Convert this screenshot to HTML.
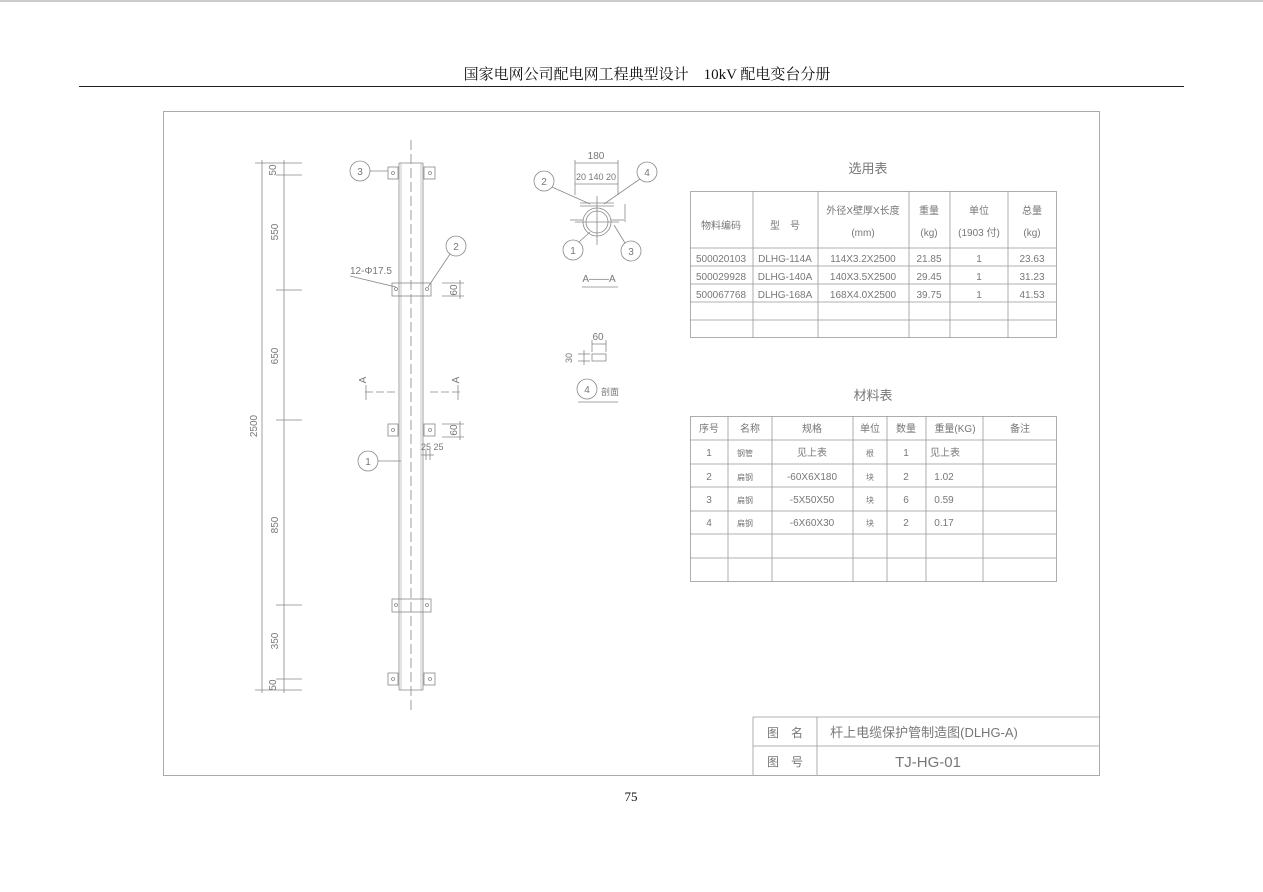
<!DOCTYPE html>
<html><head><meta charset="utf-8"><style>
html,body{margin:0;padding:0;background:#fff;}
svg{display:block;}
.t{font-family:"Liberation Sans","Noto Sans CJK SC",sans-serif;fill:#777;}
.h{font-family:"Liberation Serif","Noto Serif CJK SC",serif;fill:#111;}
</style></head><body>
<svg width="1263" height="892" viewBox="0 0 1263 892" xmlns="http://www.w3.org/2000/svg">
<line x1="0" y1="1" x2="1263" y2="1" stroke="#999" stroke-width="1"/>
<text class="h" x="647" y="79" font-size="15" text-anchor="middle">国家电网公司配电网工程典型设计　10kV 配电变台分册</text>
<line x1="79" y1="86.5" x2="1184" y2="86.5" stroke="#222" stroke-width="1"/>
<rect x="163.5" y="111.5" width="936" height="664" fill="none" stroke="#aaa" stroke-width="1"/>
<text class="h" x="631" y="801" font-size="13" text-anchor="middle">75</text>

<g stroke="#888" stroke-width="0.8" fill="none">
<line x1="262" y1="160" x2="262" y2="693"/>
<line x1="284" y1="160" x2="284" y2="693"/>
<line x1="255" y1="163" x2="302" y2="163"/>
<line x1="276" y1="175" x2="302" y2="175"/>
<line x1="276" y1="290" x2="302" y2="290"/>
<line x1="276" y1="420" x2="302" y2="420"/>
<line x1="276" y1="605" x2="302" y2="605"/>
<line x1="276" y1="679" x2="302" y2="679"/>
<line x1="255" y1="690" x2="302" y2="690"/>
<line x1="399" y1="163" x2="399" y2="690"/>
<line x1="423" y1="163" x2="423" y2="690"/>
<line x1="401" y1="163" x2="401" y2="690" stroke="#bbb"/>
<line x1="421" y1="163" x2="421" y2="690" stroke="#bbb"/>
<line x1="399" y1="163" x2="423" y2="163"/>
<line x1="399" y1="690" x2="423" y2="690"/>
<line x1="411" y1="140" x2="411" y2="710" stroke-dasharray="10,4"/>
<rect x="388" y="167" width="10" height="12"/><rect x="424" y="167" width="11" height="12"/>
<rect x="392" y="283" width="39" height="13"/>
<rect x="388" y="424" width="10" height="12"/><rect x="424" y="424" width="11" height="12"/>
<rect x="392" y="599" width="39" height="13"/>
<rect x="388" y="673" width="10" height="12"/><rect x="424" y="673" width="11" height="12"/>
<circle cx="393" cy="173" r="1.5"/><circle cx="430" cy="173" r="1.5"/>
<circle cx="396" cy="289" r="1.5"/><circle cx="427" cy="289" r="1.5"/>
<circle cx="393" cy="430" r="1.5"/><circle cx="430" cy="430" r="1.5"/>
<circle cx="396" cy="605" r="1.5"/><circle cx="427" cy="605" r="1.5"/>
<circle cx="393" cy="679" r="1.5"/><circle cx="430" cy="679" r="1.5"/>
<circle cx="360" cy="171" r="10"/><line x1="370" y1="171" x2="388" y2="171"/>
<circle cx="456" cy="246" r="10"/><line x1="450" y1="254" x2="428" y2="287"/>
<circle cx="368" cy="461" r="10"/><line x1="378" y1="461" x2="401" y2="461"/>
<line x1="350" y1="276" x2="396" y2="287"/>
<line x1="442" y1="283" x2="464" y2="283"/><line x1="442" y1="296" x2="464" y2="296"/><line x1="460" y1="280" x2="460" y2="299"/>
<line x1="442" y1="424" x2="464" y2="424"/><line x1="442" y1="437" x2="464" y2="437"/><line x1="460" y1="421" x2="460" y2="440"/>
<line x1="365" y1="392" x2="395" y2="392" stroke-dasharray="8,3"/><line x1="366" y1="385" x2="366" y2="400"/>
<line x1="430" y1="392" x2="460" y2="392" stroke-dasharray="8,3"/><line x1="458" y1="385" x2="458" y2="400"/>
<line x1="421" y1="455" x2="434" y2="455"/><line x1="426" y1="450" x2="426" y2="460"/><line x1="430" y1="450" x2="430" y2="460"/>
<circle cx="597" cy="222" r="14"/><circle cx="597" cy="222" r="11"/>
<line x1="575" y1="222" x2="619" y2="222"/><line x1="597" y1="196" x2="597" y2="245"/>
<line x1="580" y1="206" x2="614" y2="206"/><line x1="580" y1="203" x2="614" y2="203"/>
<line x1="570" y1="220" x2="583" y2="220"/><line x1="611" y1="220" x2="624" y2="220"/>
<line x1="575" y1="160" x2="575" y2="195"/><line x1="618" y1="160" x2="618" y2="195"/>
<line x1="575" y1="163" x2="618" y2="163"/><line x1="575" y1="184" x2="618" y2="184"/>
<circle cx="544" cy="181" r="10"/><line x1="552" y1="187" x2="590" y2="204"/>
<circle cx="647" cy="172" r="10"/><line x1="640" y1="179" x2="604" y2="204"/>
<circle cx="573" cy="250" r="10"/><line x1="579" y1="242" x2="590" y2="232"/>
<circle cx="631" cy="251" r="10"/><line x1="625" y1="243" x2="614" y2="225"/>
<line x1="625" y1="204" x2="625" y2="222"/>
<line x1="582" y1="287" x2="618" y2="287"/>
<rect x="592" y="354" width="14" height="7"/>
<line x1="592" y1="340" x2="592" y2="352"/><line x1="606" y1="340" x2="606" y2="352"/><line x1="592" y1="344" x2="606" y2="344"/>
<line x1="578" y1="354" x2="590" y2="354"/><line x1="578" y1="361" x2="590" y2="361"/><line x1="584" y1="350" x2="584" y2="365"/>
<circle cx="587" cy="389" r="10"/>
<line x1="578" y1="402" x2="618" y2="402"/>
</g>
<g class="t" font-size="10">
<text transform="translate(276,170) rotate(-90)" text-anchor="middle">50</text>
<text transform="translate(278,232) rotate(-90)" text-anchor="middle">550</text>
<text transform="translate(278,356) rotate(-90)" text-anchor="middle">650</text>
<text transform="translate(278,525) rotate(-90)" text-anchor="middle">850</text>
<text transform="translate(278,641) rotate(-90)" text-anchor="middle">350</text>
<text transform="translate(276,685) rotate(-90)" text-anchor="middle">50</text>
<text transform="translate(257,426) rotate(-90)" text-anchor="middle">2500</text>
<text transform="translate(457,290) rotate(-90)" text-anchor="middle">60</text>
<text transform="translate(457,430) rotate(-90)" text-anchor="middle">60</text>
<text x="350" y="274">12-Φ17.5</text>
<text x="421" y="450" font-size="9">25 25</text>
<text transform="translate(366,380) rotate(-90)" text-anchor="middle">A</text>
<text transform="translate(459,380) rotate(-90)" text-anchor="middle">A</text>
<text x="360" y="175" text-anchor="middle">3</text>
<text x="456" y="250" text-anchor="middle">2</text>
<text x="368" y="465" text-anchor="middle">1</text>
<text x="596" y="159" text-anchor="middle">180</text>
<text x="596" y="180" text-anchor="middle" font-size="9">20 140 20</text>
<text x="544" y="185" text-anchor="middle">2</text>
<text x="647" y="176" text-anchor="middle">4</text>
<text x="573" y="254" text-anchor="middle">1</text>
<text x="631" y="255" text-anchor="middle">3</text>
<text x="599" y="282" text-anchor="middle">A——A</text>
<text x="598" y="340" text-anchor="middle">60</text>
<text transform="translate(572,358) rotate(-90)" text-anchor="middle" font-size="9">30</text>
<text x="587" y="393" text-anchor="middle">4</text>
<text x="601" y="395" font-size="9">剖面</text>
</g>

<text class="t" x="868" y="173" font-size="13" text-anchor="middle">选用表</text>
<g stroke="#999" stroke-width="0.8" fill="none">
<rect x="690.5" y="191.5" width="366" height="146"/>
<line x1="690" y1="248" x2="1057" y2="248"/><line x1="690" y1="266" x2="1057" y2="266"/>
<line x1="690" y1="284" x2="1057" y2="284"/><line x1="690" y1="302" x2="1057" y2="302"/>
<line x1="690" y1="320" x2="1057" y2="320"/>
<line x1="753" y1="191" x2="753" y2="338"/><line x1="818" y1="191" x2="818" y2="338"/>
<line x1="909" y1="191" x2="909" y2="338"/><line x1="950" y1="191" x2="950" y2="338"/>
<line x1="1008" y1="191" x2="1008" y2="338"/>
</g>
<g class="t" font-size="10" text-anchor="middle">
<text x="721" y="229">物料编码</text><text x="785" y="229">型　号</text>
<text x="863" y="214">外径X壁厚X长度</text><text x="863" y="236">(mm)</text>
<text x="929" y="214">重量</text><text x="929" y="236">(kg)</text>
<text x="979" y="214">单位</text><text x="979" y="236">(1903 付)</text>
<text x="1032" y="214">总量</text><text x="1032" y="236">(kg)</text>
<text x="721" y="262">500020103</text><text x="785" y="262">DLHG-114A</text><text x="863" y="262">114X3.2X2500</text><text x="929" y="262">21.85</text><text x="979" y="262">1</text><text x="1032" y="262">23.63</text>
<text x="721" y="280">500029928</text><text x="785" y="280">DLHG-140A</text><text x="863" y="280">140X3.5X2500</text><text x="929" y="280">29.45</text><text x="979" y="280">1</text><text x="1032" y="280">31.23</text>
<text x="721" y="298">500067768</text><text x="785" y="298">DLHG-168A</text><text x="863" y="298">168X4.0X2500</text><text x="929" y="298">39.75</text><text x="979" y="298">1</text><text x="1032" y="298">41.53</text>
</g>

<text class="t" x="873" y="400" font-size="13" text-anchor="middle">材料表</text>
<g stroke="#999" stroke-width="0.8" fill="none">
<rect x="690.5" y="416.5" width="366" height="165"/>
<line x1="690" y1="440" x2="1057" y2="440"/><line x1="690" y1="464" x2="1057" y2="464"/>
<line x1="690" y1="487" x2="1057" y2="487"/><line x1="690" y1="511" x2="1057" y2="511"/>
<line x1="690" y1="534" x2="1057" y2="534"/><line x1="690" y1="558" x2="1057" y2="558"/>
<line x1="728" y1="416" x2="728" y2="582"/><line x1="772" y1="416" x2="772" y2="582"/>
<line x1="853" y1="416" x2="853" y2="582"/><line x1="887" y1="416" x2="887" y2="582"/>
<line x1="926" y1="416" x2="926" y2="582"/><line x1="983" y1="416" x2="983" y2="582"/>
</g>
<g class="t" font-size="10" text-anchor="middle">
<text x="709" y="432">序号</text><text x="750" y="432">名称</text><text x="812" y="432">规格</text><text x="870" y="432">单位</text><text x="906" y="432">数量</text><text x="955" y="432">重量(KG)</text><text x="1020" y="432">备注</text>
<text x="709" y="456">1</text><text x="745" y="456" font-size="8">钢管</text><text x="812" y="456">见上表</text><text x="870" y="456" font-size="8">根</text><text x="906" y="456">1</text><text x="945" y="456">见上表</text>
<text x="709" y="480">2</text><text x="745" y="480" font-size="8">扁钢</text><text x="812" y="480">-60X6X180</text><text x="870" y="480" font-size="8">块</text><text x="906" y="480">2</text><text x="944" y="480">1.02</text>
<text x="709" y="503">3</text><text x="745" y="503" font-size="8">扁钢</text><text x="812" y="503">-5X50X50</text><text x="870" y="503" font-size="8">块</text><text x="906" y="503">6</text><text x="944" y="503">0.59</text>
<text x="709" y="526">4</text><text x="745" y="526" font-size="8">扁钢</text><text x="812" y="526">-6X60X30</text><text x="870" y="526" font-size="8">块</text><text x="906" y="526">2</text><text x="944" y="526">0.17</text>
</g>

<g stroke="#999" stroke-width="0.8" fill="none">
<line x1="753" y1="717" x2="1099" y2="717"/><line x1="753" y1="746" x2="1099" y2="746"/>
<line x1="753" y1="717" x2="753" y2="775"/><line x1="817" y1="717" x2="817" y2="775"/>
</g>
<g class="t" text-anchor="middle">
<text x="785" y="737" font-size="12">图　名</text>
<text x="785" y="766" font-size="12">图　号</text>
<text x="924" y="737" font-size="13">杆上电缆保护管制造图(DLHG-A)</text>
<text x="928" y="767" font-size="15">TJ-HG-01</text>
</g>
</svg>
</body></html>
